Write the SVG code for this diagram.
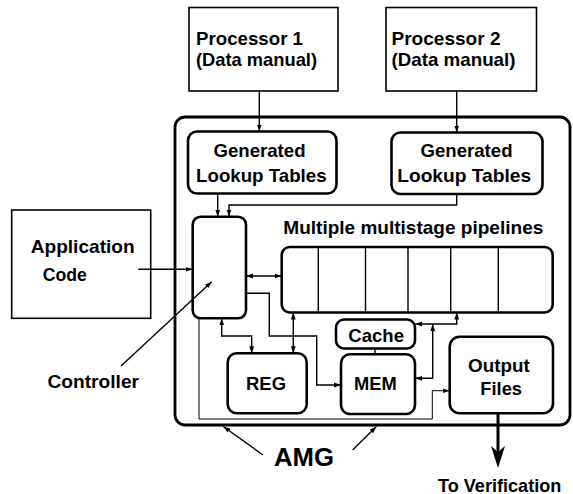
<svg xmlns="http://www.w3.org/2000/svg" width="573" height="494" viewBox="0 0 573 494">
<defs>
<style>
text{font-family:"Liberation Sans",Arial,Helvetica,sans-serif;font-weight:bold;font-size:18.5px;fill:#000}
.box{fill:#fff;stroke:#000;stroke-width:1.6}
.rbox{fill:#fff;stroke:#000;stroke-width:2.6}
.outer{fill:none;stroke:#000;stroke-width:2.8}
.c{fill:none;stroke:#000;stroke-width:1.4}
.thin{fill:none;stroke:#000;stroke-width:1}
.a{marker-end:url(#ah)}
.aa{marker-start:url(#ah);marker-end:url(#ah)}
</style>
<marker id="ah" viewBox="0 0 7 6" refX="7" refY="3" markerWidth="7" markerHeight="6" markerUnits="userSpaceOnUse" orient="auto-start-reverse">
<path d="M0,0.6 L7,3 L0,5.4 z" fill="#000"/>
</marker>
</defs>
<rect width="573" height="494" fill="#fff"/>

<g id="amg">
<rect class="outer" x="175" y="117" width="395" height="308" rx="10"/>
<text x="274" y="466" style="font-size:25px" textLength="60" lengthAdjust="spacingAndGlyphs">AMG</text>
</g>

<g id="processor1">
<rect class="box" x="189" y="7.5" width="149" height="83.5"/>
<text x="196" y="45" textLength="107" lengthAdjust="spacingAndGlyphs">Processor 1</text>
<text x="196" y="65.5" textLength="121" lengthAdjust="spacingAndGlyphs">(Data manual)</text>
</g>

<g id="processor2">
<rect class="box" x="386" y="7.5" width="150.5" height="83.5"/>
<text x="391.5" y="45" textLength="109" lengthAdjust="spacingAndGlyphs">Processor 2</text>
<text x="391.5" y="65.5" textLength="124" lengthAdjust="spacingAndGlyphs">(Data manual)</text>
</g>

<g id="lookup1">
<rect class="rbox" x="188" y="131.5" width="148.5" height="62" rx="9"/>
<text x="259.5" y="157" text-anchor="middle" textLength="92" lengthAdjust="spacingAndGlyphs">Generated</text>
<text x="261.3" y="182" text-anchor="middle" textLength="130.5" lengthAdjust="spacingAndGlyphs">Lookup Tables</text>
</g>

<g id="lookup2">
<rect class="rbox" x="391.5" y="132.5" width="151" height="61.5" rx="9"/>
<text x="466.5" y="157" text-anchor="middle" textLength="92" lengthAdjust="spacingAndGlyphs">Generated</text>
<text x="464.2" y="182" text-anchor="middle" textLength="134" lengthAdjust="spacingAndGlyphs">Lookup Tables</text>
</g>

<g id="application">
<rect class="box" x="11.7" y="210" width="139" height="108.3"/>
<text x="30.7" y="252.7" textLength="104" lengthAdjust="spacingAndGlyphs">Application</text>
<text x="42.7" y="280.7" textLength="44" lengthAdjust="spacingAndGlyphs">Code</text>
</g>

<g id="controller">
<rect class="rbox" x="192.7" y="216.7" width="53.3" height="101.6" rx="8"/>
<text x="47.5" y="388.3" textLength="91.5" lengthAdjust="spacingAndGlyphs">Controller</text>
</g>

<g id="pipelines">
<text x="283.3" y="234" textLength="260" lengthAdjust="spacingAndGlyphs">Multiple multistage pipelines</text>
<rect class="rbox" x="281.7" y="247" width="271" height="65.5" rx="8"/>
<path class="c" d="M318.3,247V312.5M365.5,247V312.5M408,247V312.5M450.7,247V312.5M498.3,247V312.5"/>
</g>

<g id="cache">
<rect class="rbox" x="336" y="319.5" width="79" height="29" rx="8"/>
<text x="348.3" y="341.7" textLength="55.7" lengthAdjust="spacingAndGlyphs">Cache</text>
</g>

<g id="reg">
<rect class="rbox" x="227.7" y="353.3" width="79" height="60" rx="9"/>
<text x="246" y="390" textLength="40" lengthAdjust="spacingAndGlyphs">REG</text>
</g>

<g id="mem">
<rect class="rbox" x="341" y="354.3" width="74" height="59.7" rx="9"/>
<text x="354" y="390" textLength="42.7" lengthAdjust="spacingAndGlyphs">MEM</text>
</g>

<g id="output">
<rect class="rbox" x="449.7" y="336.7" width="103.3" height="76.6" rx="10"/>
<text x="468" y="371.7" textLength="61.7" lengthAdjust="spacingAndGlyphs">Output</text>
<text x="480.3" y="395" textLength="41.7" lengthAdjust="spacingAndGlyphs">Files</text>
</g>

<g id="verification">
<text x="438" y="491.5" textLength="123.3" lengthAdjust="spacingAndGlyphs">To Verification</text>
</g>

<g id="connectors">
<path class="c a" d="M259.3,91V131.5"/>
<path class="c a" d="M456.7,91V132.5"/>
<path class="c a" d="M217.7,193.5V216.7"/>
<path class="c a" d="M456.7,194V205H229V216.7"/>
<path class="c a" d="M138.3,269.3H192.7"/>
<path class="c aa" d="M246,276H281.7"/>
<path class="c aa" d="M221.7,318.3V336H251.7V353.3"/>
<path class="c a" d="M246,293.3H269.3V336H316.7V385H341"/>
<path class="c aa" d="M293.3,312.5V353.3"/>
<path class="c" d="M375,348.5V354.3"/>
<path class="c aa" d="M415,324H456.7V312.5"/>
<path class="c aa" d="M415,378.3H432.7V324"/>
<path class="thin a" d="M199,318.3V419H432.3V390.7H449.7"/>
<path class="c a" d="M121,366L211.7,281.7"/>
<path class="c a" d="M263,455L223.3,426.5"/>
<path class="c a" d="M352.6,450L376.4,426.5"/>
<path fill="none" stroke="#000" stroke-width="3" d="M498,413.3V455"/>
<path fill="#000" d="M491,446L498,468L505,446L498,452z"/>
</g>
</svg>
